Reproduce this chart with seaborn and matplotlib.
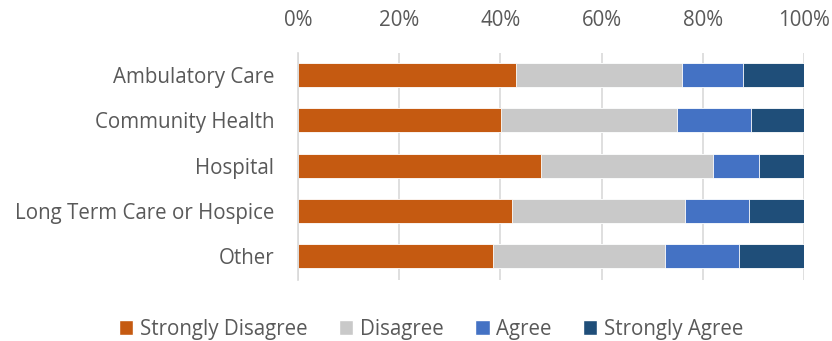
import matplotlib
matplotlib.use("Agg")
import matplotlib.pyplot as plt
import seaborn as sns
import pandas as pd
import numpy as np
from matplotlib.ticker import PercentFormatter
from matplotlib.patches import Patch

categories = ["Ambulatory Care", "Community Health", "Hospital",
              "Long Term Care or Hospice", "Other"]
strongly_disagree = [43.1, 40.2, 48.0, 42.3, 38.5]
disagree = [32.7, 34.7, 34.1, 34.1, 34.0]
agree = [12.2, 14.7, 9.1, 12.7, 14.7]
strongly_agree = [12.0, 10.4, 8.8, 10.9, 12.8]

series_names = ["Strongly Disagree", "Disagree", "Agree", "Strongly Agree"]
series_colors = ["#C55A11", "#C9C9C9", "#4472C4", "#1F4E79"]

df = pd.DataFrame({
    "Category": categories,
    "Strongly Disagree": strongly_disagree,
    "Disagree": disagree,
    "Agree": agree,
    "Strongly Agree": strongly_agree,
})
# normalise each row to 100%
totals = df[series_names].sum(axis=1)
for s in series_names:
    df[s] = df[s] / totals * 100
cum = df[series_names].cumsum(axis=1)

sns.set_theme(style="white")
plt.rcParams["font.family"] = ["Open Sans", "DejaVu Sans"]

fig = plt.figure(figsize=(8.32, 3.41), dpi=100)
ax = fig.add_axes([298 / 832, 1 - 280 / 341, 506 / 832, 227 / 341])

# stacked bars: draw cumulative totals from the widest down
for s, c in reversed(list(zip(series_names, series_colors))):
    sns.barplot(x=cum[s], y=df["Category"], color=c, orient="h",
                width=0.53, ax=ax, edgecolor="white", linewidth=0.6,
                saturation=1)

ax.set_xlim(0, 100)
ax.set_ylim(4.53, -0.49)
ax.set_xticks(np.arange(0, 101, 20))
ax.xaxis.set_major_formatter(PercentFormatter(decimals=0))
ax.xaxis.tick_top()
ax.set_xlabel("")
ax.set_ylabel("")
ax.grid(axis="x", color="#D9D9D9", linewidth=1.2)
ax.set_axisbelow(True)
for side in ["top", "right", "bottom"]:
    ax.spines[side].set_visible(False)
ax.spines["left"].set_color("#D9D9D9")
ax.spines["left"].set_linewidth(1.2)
ax.tick_params(axis="both", length=0, labelsize=14.8, labelcolor="#595959")
ax.tick_params(axis="x", pad=16)
ax.tick_params(axis="y", pad=17)

handles = [Patch(facecolor=c, label=n) for n, c in zip(series_names, series_colors)]
fig.legend(handles=handles, loc="center", bbox_to_anchor=(0.518, 1 - 329 / 341),
           ncol=4, frameon=False, fontsize=14.8, handlelength=0.7,
           handleheight=0.7, handletextpad=0.3, columnspacing=1.55,
           labelcolor="#595959")

fig.savefig("out.png", dpi=100)
